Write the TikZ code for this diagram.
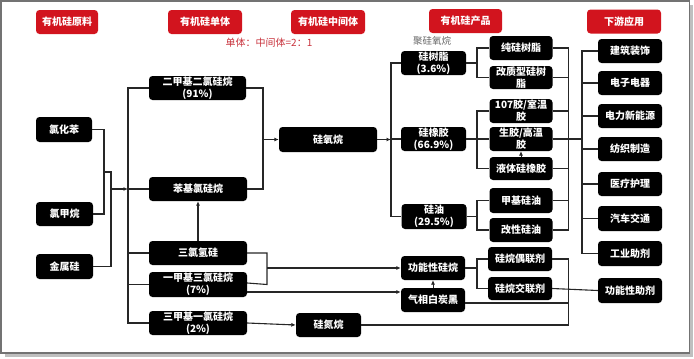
\documentclass[tikz,border=0pt]{standalone}
\usepackage{fontspec}
\setmainfont{Noto Sans CJK SC}
\usetikzlibrary{arrows.meta,calc}
\definecolor{hdred}{HTML}{D2141E}
\definecolor{txred}{HTML}{C8323C}
\tikzset{
  blk/.style={fill=black, rounded corners=3.5pt, text=white, font=\bfseries\fontsize{10}{12}\selectfont, align=center, inner sep=0pt, minimum height=24pt},
  hdr/.style={fill=hdred, rounded corners=3.5pt, text=white, font=\bfseries\fontsize{10}{12}\selectfont, inner sep=0pt, minimum height=24pt, minimum width=74pt},
  ln/.style={line width=1.1pt, draw=black!85},
  arr/.style={ln, -{Latex[length=4.5pt,width=4pt]}},
}
\begin{document}
\begin{tikzpicture}[x=1pt,y=-1pt]
\useasboundingbox (0,0) rectangle (694,359);
% frame
\draw[black!25, line width=2.5pt] (5,355.5) -- (691.5,355.5) -- (691.5,5);
\draw[black!55, line width=1.2pt] (1,1) rectangle (689.5,353);
% headers
\node[hdr, minimum width=62pt] (h1) at (67,22) {有机硅原料};
\node[hdr] (h2) at (205,22) {有机硅单体};
\node[hdr] (h3) at (328,22) {有机硅中间体};
\node[hdr, minimum width=73pt] (h4) at (465.5,21) {有机硅产品};
\node[hdr] (h5) at (624,21.5) {下游应用};
\node[text=txred, font=\fontsize{10}{12}\selectfont, inner sep=0pt] (ratio) at (269,43) {单体：中间体=2：1};
\node[text=black!60, font=\fontsize{9.5}{11}\selectfont, inner sep=0pt] (jgyw) at (432,41) {聚硅氧烷};
% raw materials
\node[blk, minimum width=56pt, minimum height=25pt] (lhb) at (64,129.5) {氯化苯};
\node[blk, minimum width=57pt] (ljw) at (64.5,214) {氯甲烷};
\node[blk, minimum width=57pt, minimum height=25pt] (jsg) at (64.5,266.5) {金属硅};
% monomers
\node[blk, minimum width=97pt] (dm) at (197.5,88) {二甲基二氯硅烷\\(91\%)};
\node[blk, minimum width=98pt] (bj) at (198,189) {苯基氯硅烷};
\node[blk, minimum width=98pt] (slqg) at (198,253) {三氯氢硅};
\node[blk, minimum width=98pt, minimum height=25pt] (yj) at (198,284.5) {一甲基三氯硅烷\\(7\%)};
\node[blk, minimum width=98pt] (sj) at (198,323) {三甲基一氯硅烷\\(2\%)};
% intermediates
\node[blk, minimum width=98pt, minimum height=25pt] (xyw) at (328,139.5) {硅氧烷};
\node[blk, minimum width=65pt] (gdw) at (328.5,325) {硅氮烷};
% products
\node[blk, minimum width=65pt] (gsz) at (433.5,63) {硅树脂\\(3.6\%)};
\node[blk, minimum width=65pt] (gxj) at (433.5,139) {硅橡胶\\(66.9\%)};
\node[blk, minimum width=65pt, minimum height=25pt] (gy) at (434,216.5) {硅油\\(29.5\%)};
\node[blk, minimum width=64pt] (gnxgw) at (433,268) {功能性硅烷};
\node[blk, minimum width=64pt] (qxbth) at (433,300) {气相白炭黑};
\node[blk, minimum width=63pt] (cgsz) at (521,48) {纯硅树脂};
\node[blk, minimum width=63pt, minimum height=23pt] (gzx) at (521,77.5) {改质型硅树\\脂};
\node[blk, minimum width=63pt] (j107) at (521,111) {107胶/室温\\胶};
\node[blk, minimum width=63pt] (sj2) at (521,139) {生胶/高温\\胶};
\node[blk, minimum width=63pt, minimum height=23pt] (ytx) at (521,168.5) {液体硅橡胶};
\node[blk, minimum width=63pt, minimum height=25pt] (jjgy) at (521,200.5) {甲基硅油};
\node[blk, minimum width=63pt] (gxgy) at (521,230) {改性硅油};
\node[blk, minimum width=64pt] (ol) at (520,259) {硅烷偶联剂};
\node[blk, minimum width=64pt, minimum height=23pt] (jl) at (520,288.5) {硅烷交联剂};
% downstream
\node[blk, minimum width=64pt] (jz) at (630,51) {建筑装饰};
\node[blk, minimum width=64pt] (dz) at (630,83) {电子电器};
\node[blk, minimum width=64pt] (dl) at (630,116) {电力新能源};
\node[blk, minimum width=64pt] (fz) at (630,149) {纺织制造};
\node[blk, minimum width=64pt] (yl) at (630,184) {医疗护理};
\node[blk, minimum width=64pt, minimum height=25pt] (qc) at (630,218.5) {汽车交通};
\node[blk, minimum width=64pt, minimum height=25pt] (gy2) at (630,253.5) {工业助剂};
\node[blk, minimum width=64pt, minimum height=25pt] (gnzj) at (630,290.5) {功能性助剂};
% trunk coordinates
\coordinate (r1) at (104,172);
\coordinate (r2) at (111,172);
\coordinate (r3) at (111,189);
\coordinate (t1) at (128,189);
\coordinate (t2) at (263,0);
\coordinate (t3) at (391,0);
\coordinate (t4) at (477,0);
\coordinate (t5) at (568.5,0);
\coordinate (t6) at (582,0);
\coordinate (t7) at (267,0);
% raw materials -> monomers
\draw[ln] (lhb.east) -| (r1) |- (ljw.east);
\draw[ln] (r1) -- (r2) |- (jsg.east);
\draw[arr] (r3) -- (t1);
\draw[ln] (dm.west) -| (t1 |- sj.west) -- (sj.west);
\draw[ln] (t1) -- (bj.west);
\draw[ln] (t1 |- slqg.west) -- (slqg.west);
\draw[ln] (t1 |- yj.west) -- (yj.west);
\draw[arr] (slqg.north) -- (bj.south);
% monomers -> siloxane
\draw[ln] (dm.east) -| (t2 |- bj.east) -- (bj.east);
\draw[arr] (t2 |- xyw.west) -- (xyw.west);
\draw[arr] (xyw.east) -- (t3 |- xyw.east);
\draw[ln] (gsz.west) -| (t3 |- gy.west) -- (gy.west);
\draw[ln] (t3 |- gxj.west) -- (gxj.west);
% product brackets
\draw[ln] (cgsz.west) -| (t4 |- gzx.west) -- (gzx.west);
\draw[ln] (gsz.east) -- (t4 |- gsz.east);
\draw[ln] (j107.west) -| (t4 |- ytx.west) -- (ytx.west);
\draw[ln] (gxj.east) -- (sj2.west);
\draw[ln] (jjgy.west) -| (t4 |- gxgy.west) -- (gxgy.west);
\draw[ln] (gy.east) -- (t4 |- gy.east);
\draw[arr, line width=0.7pt] (ytx.north) -- (sj2.south);
% product collector -> downstream
\draw[ln] (cgsz.east) -| (t5 |- gxgy.east) -- (gxgy.east);
\draw[ln] (gzx.east) -- (t5 |- gzx.east);
\draw[ln] (j107.east) -- (t5 |- j107.east);
\draw[ln] (ytx.east) -- (t5 |- ytx.east);
\draw[ln] (jjgy.east) -- (t5 |- jjgy.east);
\draw[ln] (sj2.east) -- (t6 |- sj2.east);
\draw[ln] (jz.west) -| (t6 |- gy2.west) -- (gy2.west);
\draw[ln] (t6 |- dz.west) -- (dz.west);
\draw[ln] (t6 |- dl.west) -- (dl.west);
\draw[ln] (t6 |- fz.west) -- (fz.west);
\draw[ln] (t6 |- yl.west) -- (yl.west);
\draw[ln] (t6 |- qc.west) -- (qc.west);
% functional branch
\draw[ln] (slqg.east) -| (t7 |- yj.east) -- ([yshift=1.5pt]yj.east);
\draw[arr] (t7 |- gnxgw.west) -- (gnxgw.west);
\draw[arr] ([yshift=-7.5pt]yj.east) -- ([yshift=-7.5pt]yj.east -| qxbth.west);
\draw[arr, line width=0.7pt] (qxbth.north) -- (gnxgw.south);
\draw[ln] (ol.west) -| (t4 |- jl.west) -- (jl.west);
\draw[ln] (gnxgw.east) -- (t4 |- gnxgw.east);
\draw[arr] (sj.east) -- (gdw.west);
\draw[ln] (ol.east) -| (t5 |- gdw.east) -- (gdw.east);
\draw[ln] (jl.east) -- (gnzj.west);
\draw[ln] ([yshift=-3pt]qxbth.east) -- ([yshift=-3pt]qxbth.east -| t5);
\end{tikzpicture}
\end{document}
